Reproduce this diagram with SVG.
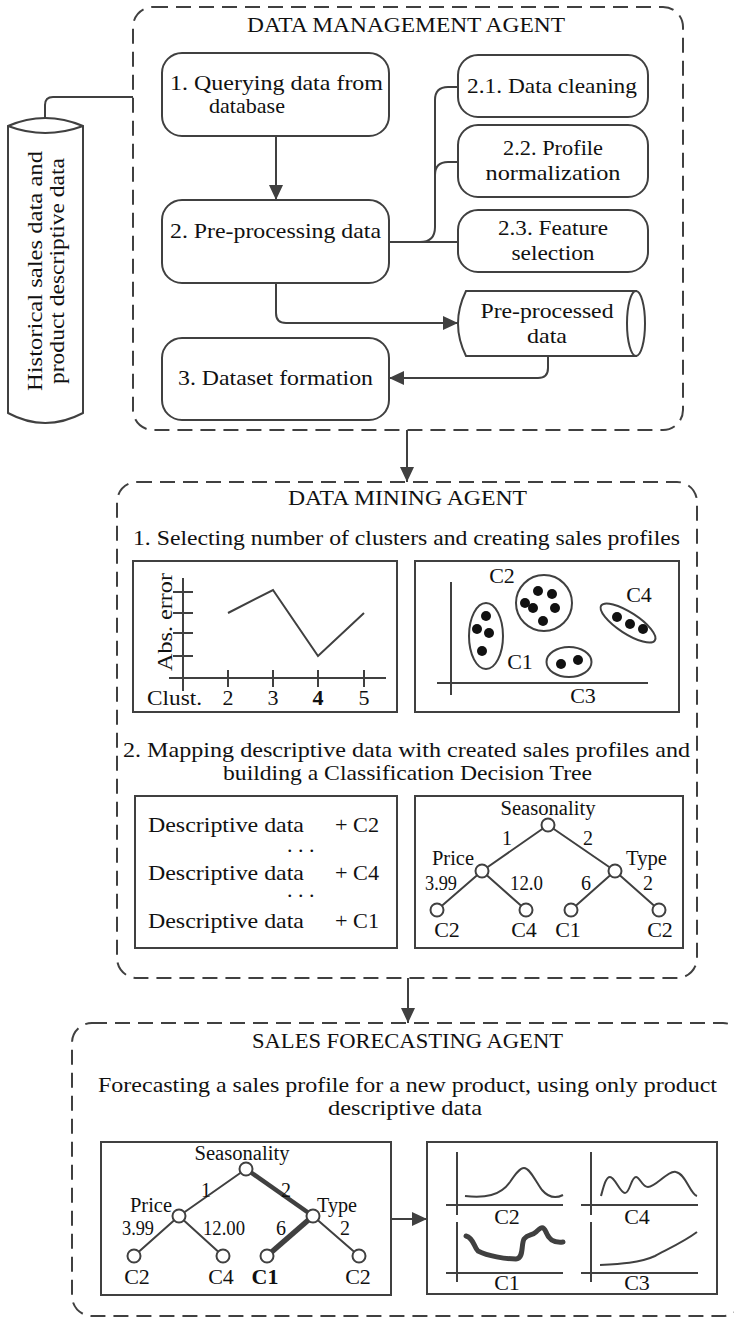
<svg xmlns="http://www.w3.org/2000/svg" width="734" height="1318" viewBox="0 0 734 1318" font-family="'Liberation Serif', 'Times New Roman', Times, serif">
<style>
.t{font-size:22px;fill:#111}
.s{font-size:20px}
.b{font-weight:bold}
.m{text-anchor:middle}
.ln{fill:none;stroke:#404040;stroke-width:2}
.dash{fill:none;stroke:#404040;stroke-width:2;stroke-dasharray:15 8}
.box{fill:#fff;stroke:#404040;stroke-width:2}
.dot{fill:#111}
</style>
<defs>
<marker id="ah" markerUnits="userSpaceOnUse" markerWidth="16" markerHeight="16" refX="15" refY="7" orient="auto">
<path d="M0,0 L15,7 L0,14 Z" fill="#404040"/>
</marker>
</defs>
<rect width="734" height="1318" fill="#fff"/>

<g id="dm-agent">
<rect class="dash" x="133" y="7" width="550" height="423" rx="20"/>
<text class="t m" x="406" y="32" textLength="318" lengthAdjust="spacingAndGlyphs">DATA MANAGEMENT AGENT</text>
</g>
<g id="mining-agent">
<rect class="dash" x="117" y="482" width="580" height="496" rx="20"/>
<text class="t m" x="407.5" y="505" textLength="239" lengthAdjust="spacingAndGlyphs">DATA MINING AGENT</text>
</g>
<g id="forecast-agent">
<rect class="dash" x="72" y="1023" width="671" height="293" rx="20"/>
<text class="t m" x="407.5" y="1048" textLength="311" lengthAdjust="spacingAndGlyphs">SALES FORECASTING AGENT</text>
</g>

<g id="connectors">
<path class="ln" d="M45,127 V105 Q45,97 53,97 H133"/>
<path class="ln" d="M276,136 V200" marker-end="url(#ah)"/>
<path class="ln" d="M389,242 H458"/>
<path class="ln" d="M420,242 Q435,242 435,227 V100 Q435,87 448,87 H458"/>
<path class="ln" d="M435,175 Q435,162 448,162 H458"/>
<path class="ln" d="M276,283 V313 Q276,323 286,323 H458" marker-end="url(#ah)"/>
<path class="ln" d="M548,356 V368 Q548,378 538,378 H389" marker-end="url(#ah)"/>
<path class="ln" d="M407,430 V482" marker-end="url(#ah)"/>
<path class="ln" d="M408,978 V1023" marker-end="url(#ah)"/>
<path class="ln" d="M391,1219 H427" marker-end="url(#ah)"/>
</g>

<g id="source-db">
<path class="box" d="M8,126 Q45,110 83,126 V413 Q45,433 8,413 Z"/>
<path class="ln" d="M8,126 Q45,140 83,126"/>
<text class="t m" transform="translate(42,271) rotate(-90)" textLength="240" lengthAdjust="spacingAndGlyphs">Historical sales data and</text>
<text class="t m" transform="translate(64,271) rotate(-90)" textLength="226" lengthAdjust="spacingAndGlyphs">product descriptive data</text>
</g>

<g id="step1">
<rect class="box" x="162" y="53" width="227" height="83" rx="20"/>
<text class="t m" x="276.5" y="90" textLength="213" lengthAdjust="spacingAndGlyphs">1. Querying data from</text>
<text class="t m" x="247" y="113" textLength="76" lengthAdjust="spacingAndGlyphs">database</text>
</g>
<g id="step2">
<rect class="box" x="162" y="200" width="227" height="83" rx="20"/>
<text class="t m" x="275.5" y="238" textLength="211" lengthAdjust="spacingAndGlyphs">2. Pre-processing data</text>
</g>
<g id="step3">
<rect class="box" x="162" y="338" width="227" height="82" rx="20"/>
<text class="t m" x="275.5" y="385" textLength="195" lengthAdjust="spacingAndGlyphs">3. Dataset formation</text>
</g>
<g id="step21">
<rect class="box" x="458" y="55" width="190" height="62" rx="20"/>
<text class="t m" x="552" y="93" textLength="170" lengthAdjust="spacingAndGlyphs">2.1. Data cleaning</text>
</g>
<g id="step22">
<rect class="box" x="458" y="125" width="190" height="72" rx="20"/>
<text class="t m" x="553" y="155" textLength="100" lengthAdjust="spacingAndGlyphs">2.2. Profile</text>
<text class="t m" x="553" y="180" textLength="135" lengthAdjust="spacingAndGlyphs">normalization</text>
</g>
<g id="step23">
<rect class="box" x="458" y="210" width="190" height="62" rx="20"/>
<text class="t m" x="553" y="235" textLength="110" lengthAdjust="spacingAndGlyphs">2.3. Feature</text>
<text class="t m" x="553" y="260" textLength="83" lengthAdjust="spacingAndGlyphs">selection</text>
</g>
<g id="preprocessed-db">
<path class="box" d="M466,291 H636 V356 H466 Q450,323.5 466,291 Z"/>
<ellipse class="box" cx="636" cy="323.5" rx="9" ry="32.5"/>
<text class="t m" x="547" y="318" textLength="133" lengthAdjust="spacingAndGlyphs">Pre-processed</text>
<text class="t m" x="547" y="343" textLength="40" lengthAdjust="spacingAndGlyphs">data</text>
</g>

<g id="mining-step1">
<text class="t m" x="406.5" y="545" textLength="547" lengthAdjust="spacingAndGlyphs">1. Selecting number of clusters and creating sales profiles</text>
</g>
<g id="error-chart">
<rect class="box" x="133" y="561" width="264" height="151"/>
<path class="ln" d="M183,578 V691 M169,678 H386"/>
<path class="ln" d="M173,592 H193 M173,613 H193 M173,633 H193 M173,656 H193"/>
<path class="ln" d="M228,670 V687 M273,670 V687 M318,670 V687 M364,670 V687"/>
<polyline class="ln" points="228,613 273,590 318,656 364,613"/>
<text class="t m" transform="translate(172,622) rotate(-90)" textLength="98" lengthAdjust="spacingAndGlyphs">Abs. error</text>
<text class="t" x="147" y="705" textLength="55" lengthAdjust="spacingAndGlyphs">Clust.</text>
<text class="t m" x="228" y="705">2</text>
<text class="t m" x="273" y="705">3</text>
<text class="t m b" x="318" y="705">4</text>
<text class="t m" x="364" y="705">5</text>
</g>
<g id="cluster-chart">
<rect class="box" x="415" y="561" width="264" height="151"/>
<path class="ln" d="M451,582 V695 M437,683 H648"/>
<ellipse class="ln" cx="486" cy="636" rx="17" ry="33"/>
<circle class="ln" cx="544" cy="603" r="28"/>
<ellipse class="ln" cx="628" cy="623" rx="32" ry="10.5" transform="rotate(33 628 623)"/>
<ellipse class="ln" cx="569" cy="662" rx="22.5" ry="15"/>
<circle class="dot" cx="486" cy="616" r="5"/>
<circle class="dot" cx="477" cy="629" r="5"/>
<circle class="dot" cx="489" cy="633" r="5"/>
<circle class="dot" cx="482" cy="651" r="5"/>
<circle class="dot" cx="538" cy="591" r="5"/>
<circle class="dot" cx="552" cy="594" r="5"/>
<circle class="dot" cx="525" cy="603" r="5"/>
<circle class="dot" cx="533" cy="608" r="5"/>
<circle class="dot" cx="555" cy="608" r="5"/>
<circle class="dot" cx="543" cy="621" r="5"/>
<circle class="dot" cx="617" cy="617" r="5"/>
<circle class="dot" cx="630" cy="624" r="5"/>
<circle class="dot" cx="643" cy="629" r="5"/>
<circle class="dot" cx="561" cy="664" r="5"/>
<circle class="dot" cx="578" cy="660" r="5"/>
<text class="t m" x="502" y="583">C2</text>
<text class="t m" x="639" y="602">C4</text>
<text class="t m" x="520" y="669">C1</text>
<text class="t m" x="583" y="703">C3</text>
</g>
<g id="mining-step2">
<text class="t m" x="406.5" y="757" textLength="567" lengthAdjust="spacingAndGlyphs">2. Mapping descriptive data with created sales profiles and</text>
<text class="t m" x="407.5" y="780" textLength="369" lengthAdjust="spacingAndGlyphs">building a Classification Decision Tree</text>
</g>
<g id="mapping-table">
<rect class="box" x="135" y="796" width="262" height="152"/>
<text class="t" x="148" y="832" textLength="156" lengthAdjust="spacingAndGlyphs">Descriptive data</text>
<text class="t" x="335" y="832" textLength="44" lengthAdjust="spacingAndGlyphs">+ C2</text>
<text class="t" x="287" y="852">. . .</text>
<text class="t" x="148" y="880" textLength="156" lengthAdjust="spacingAndGlyphs">Descriptive data</text>
<text class="t" x="335" y="880" textLength="44" lengthAdjust="spacingAndGlyphs">+ C4</text>
<text class="t" x="287" y="897">. . .</text>
<text class="t" x="148" y="928" textLength="156" lengthAdjust="spacingAndGlyphs">Descriptive data</text>
<text class="t" x="335" y="928" textLength="44" lengthAdjust="spacingAndGlyphs">+ C1</text>
</g>
<g id="decision-tree">
<rect class="box" x="415" y="796" width="268" height="152"/>
<path class="ln" d="M548,825 L482,871 M548,825 L615,871 M482,871 L437,910 M482,871 L526,910 M615,871 L571,910 M615,871 L659,910"/>
<circle class="box" cx="548" cy="825" r="6.5"/>
<circle class="box" cx="482" cy="871" r="6.5"/>
<circle class="box" cx="615" cy="871" r="6.5"/>
<circle class="box" cx="437" cy="910" r="6.5"/>
<circle class="box" cx="526" cy="910" r="6.5"/>
<circle class="box" cx="571" cy="910" r="6.5"/>
<circle class="box" cx="659" cy="910" r="6.5"/>
<text class="t s m" x="548" y="815" textLength="95" lengthAdjust="spacingAndGlyphs">Seasonality</text>
<text class="t s m" x="507" y="845">1</text>
<text class="t s m" x="588" y="845">2</text>
<text class="t s" x="432" y="865" textLength="42" lengthAdjust="spacingAndGlyphs">Price</text>
<text class="t s" x="626" y="865" textLength="41" lengthAdjust="spacingAndGlyphs">Type</text>
<text class="t s" x="425" y="890" textLength="32" lengthAdjust="spacingAndGlyphs">3.99</text>
<text class="t s" x="510" y="890" textLength="33" lengthAdjust="spacingAndGlyphs">12.0</text>
<text class="t s m" x="586" y="890">6</text>
<text class="t s m" x="648" y="890">2</text>
<text class="t m" x="447" y="937">C2</text>
<text class="t m" x="524" y="937">C4</text>
<text class="t m" x="568" y="937">C1</text>
<text class="t m" x="660" y="937">C2</text>
</g>

<g id="forecast-text">
<text class="t m" x="407.5" y="1092" textLength="619" lengthAdjust="spacingAndGlyphs">Forecasting a sales profile for a new product, using only product</text>
<text class="t m" x="405" y="1115" textLength="154" lengthAdjust="spacingAndGlyphs">descriptive data</text>
</g>
<g id="forecast-tree">
<rect class="box" x="101" y="1142" width="290" height="153"/>
<path class="ln" d="M246,1169 L179,1216 M179,1216 L134,1256 M179,1216 L223,1256 M313,1216 L359,1256"/>
<path fill="none" stroke="#404040" stroke-width="4.5" d="M246,1169 L313,1216"/>
<path fill="none" stroke="#404040" stroke-width="5.5" d="M313,1216 L267,1256"/>
<circle class="box" cx="246" cy="1169" r="6.5"/>
<circle class="box" cx="179" cy="1216" r="6.5"/>
<circle class="box" cx="313" cy="1216" r="6.5"/>
<circle class="box" cx="134" cy="1256" r="6.5"/>
<circle class="box" cx="223" cy="1256" r="6.5"/>
<circle class="box" cx="267" cy="1256" r="6.5"/>
<circle class="box" cx="359" cy="1256" r="6.5"/>
<text class="t s m" x="242" y="1160" textLength="95" lengthAdjust="spacingAndGlyphs">Seasonality</text>
<text class="t s m" x="206" y="1197">1</text>
<text class="t s m" x="286" y="1197">2</text>
<text class="t s" x="130" y="1212" textLength="42" lengthAdjust="spacingAndGlyphs">Price</text>
<text class="t s" x="317" y="1212" textLength="40" lengthAdjust="spacingAndGlyphs">Type</text>
<text class="t s" x="122" y="1235" textLength="32" lengthAdjust="spacingAndGlyphs">3.99</text>
<text class="t s" x="203" y="1235" textLength="42" lengthAdjust="spacingAndGlyphs">12.00</text>
<text class="t s m" x="281" y="1235">6</text>
<text class="t s m" x="345" y="1235">2</text>
<text class="t m" x="137" y="1284">C2</text>
<text class="t m" x="221" y="1284">C4</text>
<text class="t m b" x="265" y="1284">C1</text>
<text class="t m" x="358" y="1284">C2</text>
</g>
<g id="forecast-profiles">
<rect class="box" x="427" y="1142" width="290" height="152"/>
<path class="ln" d="M457,1152 V1215 M446,1205 H563 M591,1152 V1215 M581,1205 H698 M457,1222 V1282 M446,1273 H563 M591,1222 V1282 M581,1273 H698"/>
<path class="ln" d="M465,1196 C485,1198 500,1196 510,1182 C516,1173 520,1168 524,1168 C530,1168 536,1182 542,1190 C548,1197 555,1199 563,1195"/>
<path class="ln" d="M601,1196 C604,1185 606,1177 610,1177 C615,1177 620,1193 625,1193 C630,1193 631,1177 636,1177 C640,1177 642,1187 648,1187 C656,1187 668,1170 676,1172 C686,1174 690,1194 697,1196"/>
<path fill="none" stroke="#404040" stroke-width="5" stroke-linecap="round" stroke-linejoin="round" d="M466,1236 C474,1238 474,1248 478,1251 C488,1256 505,1259 516,1259 C524,1259 521,1244 524,1239 C528,1234 532,1236 536,1232 C540,1228 543,1225 546,1232 C549,1240 554,1243 563,1242"/>
<path class="ln" d="M600,1265 C620,1264 640,1263 655,1256 C672,1247 685,1241 697,1232"/>
<text class="t m" x="507" y="1224">C2</text>
<text class="t m" x="637" y="1224">C4</text>
<text class="t m" x="507" y="1290">C1</text>
<text class="t m" x="637" y="1290">C3</text>
</g>
</svg>
